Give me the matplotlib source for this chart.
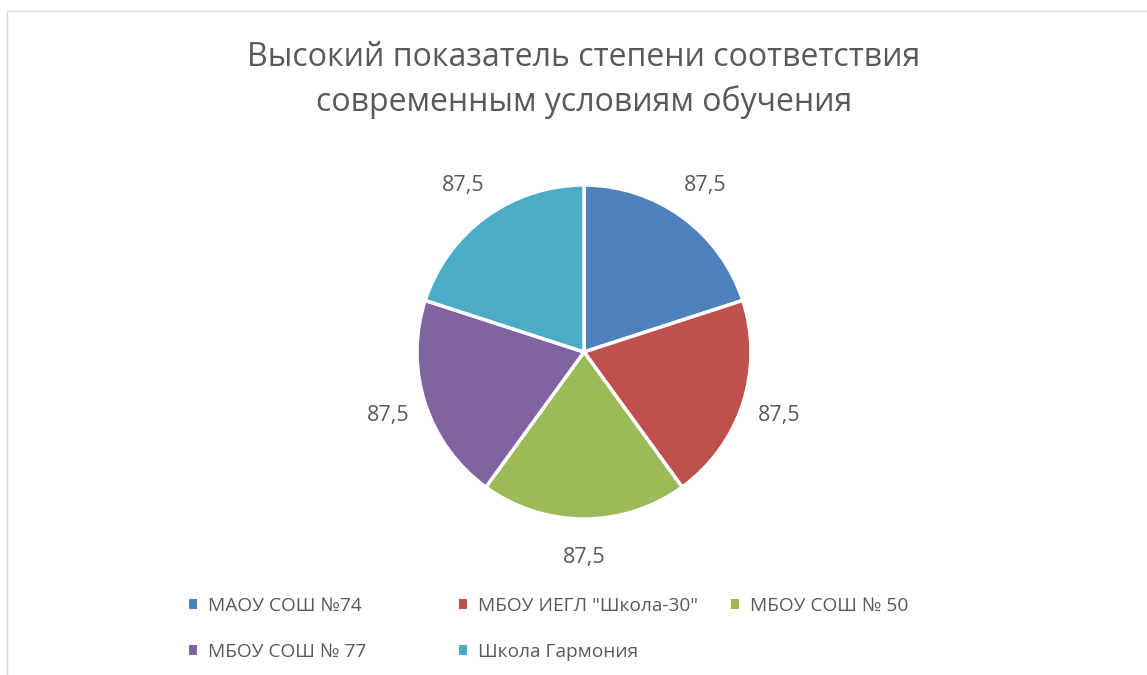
import matplotlib
matplotlib.use("Agg")
import matplotlib.pyplot as plt
from matplotlib.patches import Rectangle, Patch

plt.rcParams['font.family'] = ['Open Sans', 'DejaVu Sans']

title = "Высокий показатель степени соответствия\nсовременным условиям обучения"
categories = ['МАОУ СОШ №74', 'МБОУ ИЕГЛ "Школа-30"', 'МБОУ СОШ № 50',
              'МБОУ СОШ № 77', 'Школа Гармония']
values = [87.5, 87.5, 87.5, 87.5, 87.5]
colors = ['#4F81BD', '#C0504D', '#9BBB59', '#8064A2', '#4BACC6']
text_color = '#595959'

W, H = 1147, 675
fig = plt.figure(figsize=(W / 100, H / 100), dpi=100)
ax = fig.add_axes([0, 0, 1, 1])
ax.set_xlim(0, W)
ax.set_ylim(0, H)
ax.set_aspect('equal')
ax.axis('off')

value_iter = iter(values)
ax.pie(values, colors=colors, startangle=90, counterclock=False,
       center=(584, H - 352), radius=167,
       wedgeprops=dict(edgecolor='white', linewidth=2.5),
       autopct=lambda p: f"{next(value_iter):.1f}".replace('.', ','),
       pctdistance=1.23,
       textprops=dict(color=text_color, fontsize=15.5))
ax.set_xlim(0, W)
ax.set_ylim(0, H)

fig.text(584 / W, 1 - 80 / H, title, ha='center', va='center',
         fontsize=23, color=text_color, linespacing=1.40)

# chart area border
fig.add_artist(Rectangle((7 / W, -0.1), 2, (H - 11) / H + 0.1,
                         transform=fig.transFigure, fill=False,
                         edgecolor='#D9D9D9', linewidth=1))

# legend (row-major, 3 columns)
col_x = [189, 459, 731]
for c in range(3):
    idx = [i for i in range(len(categories)) if i % 3 == c]
    handles = [Patch(facecolor=colors[i], edgecolor='none') for i in idx]
    labels = [categories[i] for i in idx]
    fig.legend(handles, labels, loc='upper left',
               bbox_to_anchor=(col_x[c] / W, 1 - 597 / H),
               frameon=False, fontsize=13.8, labelcolor=text_color,
               handlelength=0.4, handleheight=0.4, handletextpad=0.6,
               labelspacing=1.44, borderaxespad=0, borderpad=0)

fig.savefig('out.png', dpi=100, facecolor='white')
